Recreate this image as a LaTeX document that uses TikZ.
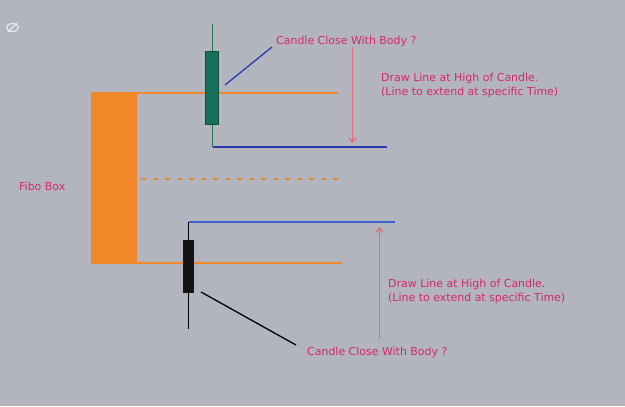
\documentclass[tikz,border=0pt]{standalone}
\usepackage{fontspec}
\setmainfont{DejaVu Sans}
\usetikzlibrary{arrows.meta,positioning}
\definecolor{chartbg}{RGB}{178,181,190}
\definecolor{fiboorange}{RGB}{240,136,42}
\definecolor{candlegreen}{RGB}{22,112,90}
\definecolor{wickgreen}{RGB}{26,120,80}
\definecolor{hiblue}{RGB}{40,60,175}
\definecolor{loblue}{RGB}{60,95,210}
\definecolor{notepink}{RGB}{212,40,104}
\definecolor{arrowred}{RGB}{226,108,124}
\tikzset{
  note/.style={text=notepink, font=\fontsize{11}{14}\selectfont, inner sep=0pt, align=left},
  fiboline/.style={draw=fiboorange, line width=2bp},
  hiline/.style={line width=2bp},
  marker/.style={draw=arrowred, line width=1.4bp, -{Straight Barb[length=4bp,width=7bp]}},
}
\begin{document}
\begin{tikzpicture}[x=1bp,y=-1bp]
            % Chart background
            \fill[chartbg] (0,0) rectangle (625,406);
            \useasboundingbox (0,0) rectangle (625,406);
            % Hidden-eye icon
            \draw[white!70!chartbg, line width=1.2bp] (12.5,27.5) ellipse (6bp and 4bp);
            \draw[white!70!chartbg, line width=1.2bp] (8,32) -- (17,23);

            % Fibo box and its levels
            \fill[fiboorange] (91,92) rectangle (137,264);
            \draw[fiboline] (137,92.5) -- (338,92.5);
            \draw[fiboline] (137,263) -- (342,263);
            \draw[fiboline, dash pattern=on 5bp off 7bp] (141,178.5) -- (341,178.5);
            \node[note, anchor=west] (fibolabel) at (19,186) {Fibo Box};

            % Upper candle
            \coordinate (hiwicktop) at (212.5,24);
            \coordinate (hiwickend) at (212.5,146.5);
            \coordinate (hilineend) at (387,146.5);
            \draw[wickgreen, line width=1.8bp] (hiwicktop) -- (hiwickend);
            \fill[candlegreen] (205,51) rectangle (218,124);
            \draw[candlegreen!70!black, line width=0.4bp] (205,51) rectangle (218,124);
            \draw[hiblue, hiline] (hiwickend) -- (hilineend);
            \node[note, anchor=west] (hiclose) at (276,41) {Candle Close With Body ?};
            \coordinate (hipoint) at (225,85);
            \draw[hiblue, line width=1.3bp] (hipoint) -- (272,47);
            \node[note, anchor=west] (hidraw) at (381,85) {Draw Line at High of Candle.\\(Line to extend at specific Time)};
            \coordinate (hiarrowtop) at (352.5,47);
            \coordinate (hiarrowtip) at (352.5,143);
            \draw[marker] (hiarrowtop) -- (hiarrowtip);

            % Lower candle
            \coordinate (lowicktop) at (188.5,221.5);
            \coordinate (lowickend) at (188.5,329);
            \coordinate (lolineend) at (395,221.5);
            \draw[black, line width=1.8bp] (lowicktop) -- (lowickend);
            \fill[black!92] (183,240) rectangle (194,293);
            \draw[loblue, hiline] (lowicktop) -- (lolineend);
            \node[note, anchor=west] (loclose) at (307,352) {Candle Close With Body ?};
            \coordinate (lopoint) at (201,292);
            \draw[black, line width=1.3bp] (lopoint) -- (296,345);
            \node[note, anchor=west] (lodraw) at (388,291) {Draw Line at High of Candle.\\(Line to extend at specific Time)};
            \coordinate (loarrowbot) at (379.5,339);
            \coordinate (loarrowtip) at (379.5,227);
            \draw[marker] (loarrowbot) -- (loarrowtip);
        \end{tikzpicture}
\end{document}
